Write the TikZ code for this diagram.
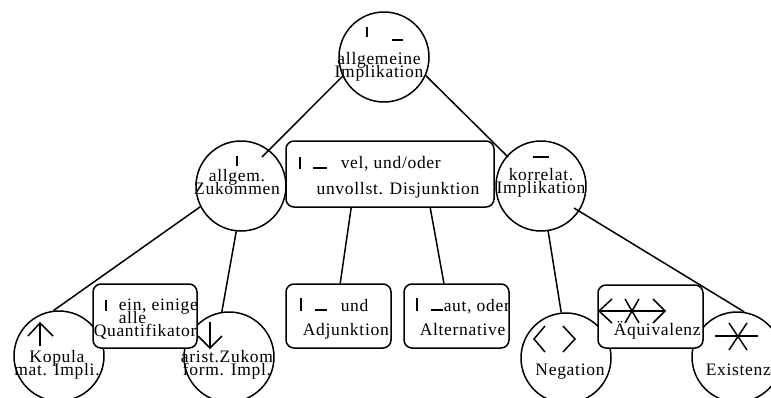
\documentclass[tikz,border=0pt]{standalone}
\usepackage{fontspec}
\setmainfont{Liberation Serif}[LetterSpace=4]
\usetikzlibrary{calc}
\newcommand{\knapp}{\fontsize{17.5}{13}\selectfont\lineskiplimit=-20pt\relax}

\begin{document}
\begin{tikzpicture}[x=1pt, y=-1pt, line width=1.5pt,
  kreis/.style={draw, circle, minimum size=90pt, inner sep=0pt},
  kasten/.style={draw, fill=white, rounded corners=8pt, inner sep=0pt},
  schrift/.style={font=\knapp, inner sep=0pt, align=center}]
  \useasboundingbox (0, 0) rectangle (771, 397);

  % circles and boxes
  \node[kreis] (allgimp) at (384, 57) {};
  \node[kreis] (zukommen) at (241, 186) {};
  \node[kreis] (korrimp) at (541, 186) {};
  \node[kasten, minimum width=208pt, minimum height=66pt] (disj) at (390, 174) {};
  \node[kreis] (kopula) at (59, 356) {};
  \node[kreis] (arist) at (229, 357) {};
  \node[kreis] (negation) at (566, 358) {};
  \node[kreis] (existenz) at (737, 357) {};
  \node[kasten, minimum width=104pt, minimum height=64pt] (quant) at (145, 316) {};
  \node[kasten, minimum width=105pt, minimum height=64pt] (adj) at (338.5, 316) {};
  \node[kasten, minimum width=105pt, minimum height=64pt] (alt) at (456.5, 316) {};
  \node[kasten, minimum width=105pt, minimum height=63pt] (aequi) at (650.5, 316.5) {};

  % connectors
  \coordinate (zukommen-in) at (262, 157);
  \coordinate (korrimp-in) at (508, 157);
  \coordinate (korrimp-out) at (574, 208);
  \draw (allgimp.205) -- (zukommen-in);
  \draw (allgimp.-24) -- (korrimp-in);
  \draw (zukommen.207) -- (kopula.97);
  \draw (zukommen.264) -- (arist.99);
  \draw (disj.221) -- (adj.87);
  \draw (disj.-40) -- (alt.111);
  \draw (korrimp.-81) -- (negation.96);
  \draw (korrimp-out) -- (existenz.81);

  % symbols
  \draw (367, 27) -- (367, 37);
  \draw (392, 40) -- (403, 40);
  \draw (237, 156) -- (237, 166);
  \draw (300, 157) -- (300, 169);
  \draw (313, 168) -- (327, 168);
  \draw (533, 157) -- (549, 157);
  \draw (106, 300) -- (106, 311);
  \draw (40, 323) -- (40, 346);
  \draw (28, 336) -- (40, 323) -- (53, 336);
  \draw (210, 322) -- (210, 348);
  \draw (198, 336) -- (210, 348) -- (222, 336);
  \draw (301, 298) -- (301, 311);
  \draw (315, 310) -- (327, 310);
  \draw (417, 298) -- (417, 311);
  \draw (431, 310) -- (443, 310);
  \draw (545, 326) -- (534, 339) -- (545, 352);
  \draw (563, 326) -- (575, 339) -- (563, 352);
  \draw (599, 311) -- (665, 311);
  \draw (612, 299) -- (599, 311) -- (612, 323);
  \draw (653, 299) -- (665, 311) -- (653, 323);
  \draw (625, 299) -- (639, 323);
  \draw (639, 299) -- (625, 323);
  \draw (715, 336) -- (758, 336);
  \draw (729, 323) -- (747, 350);
  \draw (747, 323) -- (729, 350);

  % labels
  \node[schrift, anchor=base] (allgimp-t) at (379, 77) {allgemeine\\Implikation};
  \node[schrift, anchor=base] (zukommen-t) at (237, 194) {allgem.\\Zukommen};
  \node[schrift, anchor=base west] (disj-t1) at (340, 168) {vel, und/oder};
  \node[schrift, anchor=base] (disj-t2) at (398, 194) {unvollst. Disjunktion};
  \node[schrift, anchor=base] (korrimp-t) at (541, 193) {korrelat.\\Implikation};
  \node[schrift, anchor=base west, align=left] (quant-t1) at (118, 323) {ein, einige\\alle};
  \node[schrift, anchor=base west] (quant-t2) at (93, 336) {Quantifikator};
  \node[schrift, anchor=base] (kopula-t) at (57, 375) {Kopula\\mat. Impli.};
  \node[schrift, anchor=base] (arist-t) at (227, 375) {arist.Zukom\\form. Impl.};
  \node[schrift, anchor=base west] (adj-t1) at (340, 311) {und};
  \node[schrift, anchor=base west] (adj-t2) at (302, 335) {Adjunktion};
  \node[schrift, anchor=base west] (alt-t1) at (443, 311) {aut, oder};
  \node[schrift, anchor=base west] (alt-t2) at (419, 335) {Alternative};
  \node[schrift, anchor=base] (negation-t) at (570, 375) {Negation};
  \node[schrift, anchor=base west] (aequi-t) at (613, 335) {Äquivalenz};
  \node[schrift, anchor=base west] (existenz-t) at (705, 375) {Existenz};
\end{tikzpicture}
\end{document}
